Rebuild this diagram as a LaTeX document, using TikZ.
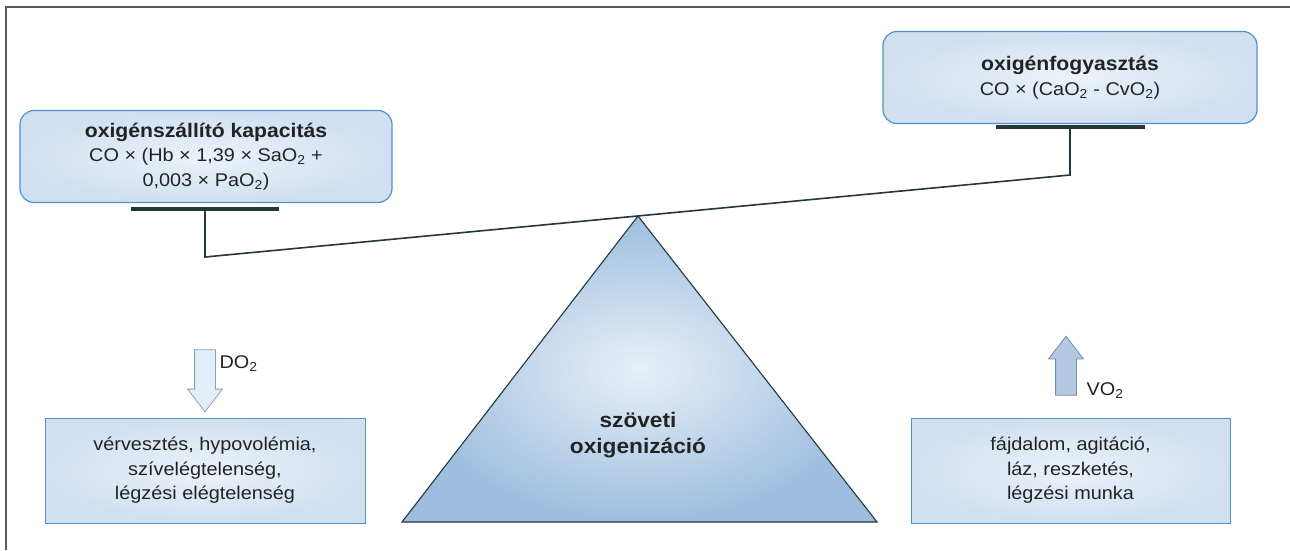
\documentclass[tikz,border=0pt]{standalone}
\usepackage{fontspec}
\setmainfont{Liberation Sans}[FakeStretch=1.08]
\usetikzlibrary{shapes.arrows,positioning}
\definecolor{boxblue}{RGB}{208,224,241}
\definecolor{boxlight}{RGB}{236,242,249}
\definecolor{boxedge}{RGB}{80,145,205}
\definecolor{triout}{RGB}{158,190,223}
\definecolor{triin}{RGB}{232,240,248}
\definecolor{beam}{RGB}{35,55,60}
\definecolor{txt}{RGB}{35,35,35}
\definecolor{dofill}{RGB}{228,238,248}
\definecolor{doedge}{RGB}{130,165,195}
\definecolor{vofill}{RGB}{180,200,226}
\definecolor{voedge}{RGB}{110,140,180}
\newcommand{\boxtitle}[1]{{\fontsize{19.6}{25}\selectfont\bfseries #1}}

\begin{document}
\begin{tikzpicture}[x=1pt,y=-1pt,
  every node/.style={text=txt,font=\fontsize{18.4}{24.5}\selectfont},
  topbox/.style={draw=boxedge,line width=1.2pt,rounded corners=14pt,
    inner color=boxlight,outer color=boxblue,minimum height=92pt,align=center},
  bottombox/.style={draw=boxedge,line width=1pt,inner color=boxlight,
    outer color=boxblue,minimum height=105pt,align=center},
  bar/.style={fill=beam,inner sep=0pt,minimum height=3.5pt},
  beamline/.style={draw=beam,line width=1.6pt},
  blockarrow/.style={single arrow,inner sep=10pt,single arrow head extend=7pt,
    single arrow tip angle=75,line width=0.8pt}]
\useasboundingbox (0,0) rectangle (1290,550);
\draw [gray!70!black,line width=1.5pt] (6,550) -- (6,7) -- (1290,7);

\node [topbox,minimum width=372pt] (capacity) at (206,156.5)
  {\boxtitle{oxigénszállító kapacitás}\\CO × (Hb × 1,39 × SaO\textsubscript{2} +\\0,003 × PaO\textsubscript{2})};
\node [topbox,minimum width=374pt] (consumption) at (1070,77.5)
  {\boxtitle{oxigénfogyasztás}\\CO × (CaO\textsubscript{2} - CvO\textsubscript{2})};
\node [bar,minimum width=148pt] (capbar) at (205,209) {};
\node [bar,minimum width=149pt] (consbar) at (1070,127) {};

\coordinate (capend) at (205,257);
\coordinate (consend) at (1070,175);
\coordinate (apex) at (638,216);
\coordinate (baseL) at (402,522);
\coordinate (baseR) at (877,522);

\shadedraw [inner color=triin,outer color=triout,draw=beam,line width=1.1pt]
  (baseL) -- (apex) -- (baseR) -- cycle;
\draw [beamline] (capbar.south) -- (capend) -- (consend) -- (consbar.south);
\node [font=\fontsize{21}{26}\selectfont\bfseries,align=center] (tissue) at (638,435)
  {szöveti\\oxigenizáció};

\node [bottombox,minimum width=320pt] (loss) at (205,470.5)
  {vérvesztés, hypovolémia,\\szívelégtelenség,\\légzési elégtelenség};
\node [bottombox,minimum width=319pt] (demand) at (1070.5,470.5)
  {fájdalom, agitáció,\\láz, reszketés,\\légzési munka};

\node [blockarrow,fill=dofill,draw=doedge,minimum height=62pt,
  shape border rotate=270] (do2) at (205,374) {};
\node [anchor=west] (do2lbl) at (216,364) {DO\textsubscript{2}};
\node [blockarrow,fill=vofill,draw=voedge,minimum height=59pt,
  shape border rotate=90] (vo2) at (1066,372.5) {};
\node [anchor=west] (vo2lbl) at (1083,391) {VO\textsubscript{2}};
\end{tikzpicture}
\end{document}
